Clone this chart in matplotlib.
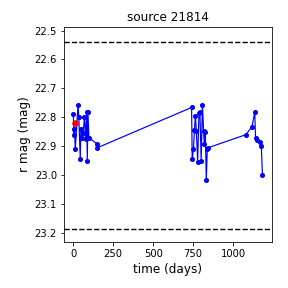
import matplotlib
matplotlib.use("Agg")
import matplotlib.pyplot as plt

# light curve
days = [1, 4, 8, 13, 30, 35, 44, 48, 55, 62, 70, 78, 84, 88, 92, 98, 146, 148,
        740, 744, 752, 758, 764, 770, 778, 786, 792, 800, 808, 815, 820, 826, 832, 838, 845,
        1080, 1118, 1135, 1140, 1152, 1170, 1176, 1183]
rmag = [22.79, 22.86, 22.84, 22.91, 22.757, 22.80, 22.944, 22.84, 22.87, 22.855, 22.80, 22.875,
        22.783, 22.95, 22.781, 22.87, 22.891, 22.906,
        22.766, 22.944, 22.91, 22.843, 22.795, 22.849, 22.953, 22.785, 22.78, 22.95, 22.757,
        22.849, 22.893, 22.852, 23.016, 22.91, 22.905,
        22.86, 22.832, 22.782, 22.872, 22.878, 22.884, 22.90, 22.999]

flag_day = [13]
flag_mag = [22.82]

bounds = [22.538, 23.187]

fig, ax = plt.subplots(figsize=(4, 4), dpi=72)
ax.plot(days, rmag, 'o-', color='blue', markersize=4, linewidth=1.2)
ax.plot(flag_day, flag_mag, 'o', color='red', markersize=5.5)
for b in bounds:
    ax.axhline(b, color='black', linestyle='--', linewidth=1.4)

ax.set_xlim(-58, 1242)
ax.set_ylim(23.231, 22.488)
ax.set_xticks([0, 250, 500, 750, 1000])
ax.set_title('source 21814', fontsize=12)
ax.set_xlabel('time (days)', fontsize=12)
ax.set_ylabel('r mag (mag)', fontsize=12)

plt.subplots_adjust(left=0.222, right=0.944, top=0.906, bottom=0.16)
plt.savefig('out.png', dpi=72)
